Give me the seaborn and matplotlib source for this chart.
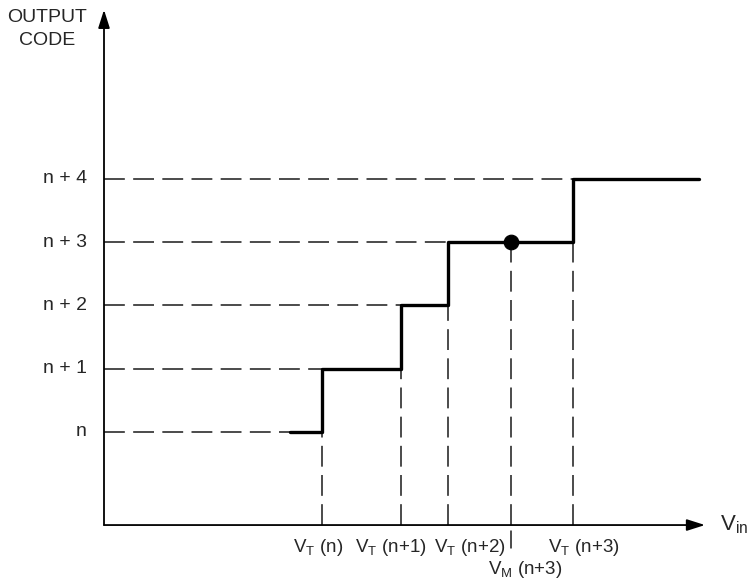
import matplotlib
matplotlib.use("Agg")
import matplotlib.pyplot as plt
import matplotlib.font_manager as fm
import seaborn as sns
import pandas as pd

# step transfer curve: output code level vs input voltage (arbitrary units)
step_x = [1.86, 2.18, 2.97, 3.44, 4.69, 5.95]
step_code = [0, 1, 2, 3, 4, 4]

code_levels = [0, 1, 2, 3, 4]
code_labels = ["n", "n + 1", "n + 2", "n + 3", "n + 4"]

# threshold voltages V_T(n) .. V_T(n+3)
vt = [2.18, 2.97, 3.44, 4.69]
vt_low = [0, 1, 2, 3]          # code below each riser
vt_labels = [r"$\mathrm{V_T}$ (n)", r"$\mathrm{V_T}$ (n+1)", r"$\mathrm{V_T}$ (n+2)", r"$\mathrm{V_T}$ (n+3)"]
vt_label_x = [2.14, 2.87, 3.66, 4.80]

# midpoint of code n+3
vm = 4.07
vm_code = 3
vm_label = r"$\mathrm{V_M}$ (n+3)"
vm_label_x = 4.21

# axis extents
x_axis_y = -1.47
x_arrow_end = 6.01
y_arrow_end = 6.67

sns.set_style("white")
names = {f.name for f in fm.fontManager.ttflist}
font = "Liberation Sans Narrow" if "Liberation Sans Narrow" in names else "Liberation Sans"
plt.rcParams["font.family"] = [font, "DejaVu Sans"]
plt.rcParams["mathtext.fontset"] = "custom"
plt.rcParams["mathtext.rm"] = font
plt.rcParams["lines.scale_dashes"] = False

fig = plt.figure(figsize=(7.47, 5.86), dpi=100)
ax = fig.add_axes([0, 0, 1, 1])
ax.set_xlim(-1.04, 6.43)
ax.set_ylim(-2.433, 6.825)
ax.axis("off")

dash = (0, (15, 6))
lc = "#1a1a1a"

# horizontal dashed guides from the y axis to the step
h_ends = [step_x[0]] + vt
for lev, xe in zip(code_levels, h_ends):
    ax.plot([0, xe], [lev, lev], color=lc, lw=1.1, linestyle=dash)

# vertical dashed guides from the x axis up to the step
for xv, lev in zip(vt + [vm], vt_low + [vm_code]):
    ax.plot([xv, xv], [x_axis_y, lev], color=lc, lw=1.1, linestyle=dash)

# step curve
df = pd.DataFrame({"vin": step_x, "code": step_code})
sns.lineplot(data=df, x="vin", y="code", drawstyle="steps-post", color="black",
             lw=2.4, estimator=None, ax=ax)

# V_M point
sns.scatterplot(x=[vm], y=[vm_code], color="black", s=110, edgecolor="black", zorder=5, ax=ax)

# small tick below the axis at V_M
ax.plot([vm, vm], [x_axis_y - 0.1, x_axis_y - 0.36], color=lc, lw=1.1)

# axes with arrows
arrow = dict(arrowstyle="-|>,head_length=1.1,head_width=0.35", color="black", lw=1.3,
             shrinkA=0, shrinkB=0)
ax.annotate("", xy=(x_arrow_end, x_axis_y), xytext=(0, x_axis_y), arrowprops=arrow)
ax.annotate("", xy=(0, y_arrow_end), xytext=(0, x_axis_y), arrowprops=arrow)

# labels
for lev, lab in zip(code_levels, code_labels):
    ax.text(-0.17, lev, lab, ha="right", va="center", fontsize=14)

for xl, lab in zip(vt_label_x, vt_labels):
    ax.text(xl, x_axis_y - 0.36, lab, ha="center", va="center", fontsize=13.5)
ax.text(vm_label_x, x_axis_y - 0.7, vm_label, ha="center", va="center", fontsize=13.5)

ax.text(6.16, x_axis_y, r"$\mathrm{V_{in}}$", ha="left", va="center", fontsize=16)
ax.text(-0.57, 6.37, "OUTPUT\nCODE", ha="center", va="center", fontsize=14,
        multialignment="center", linespacing=1.45)

fig.savefig("out.png", dpi=100)
